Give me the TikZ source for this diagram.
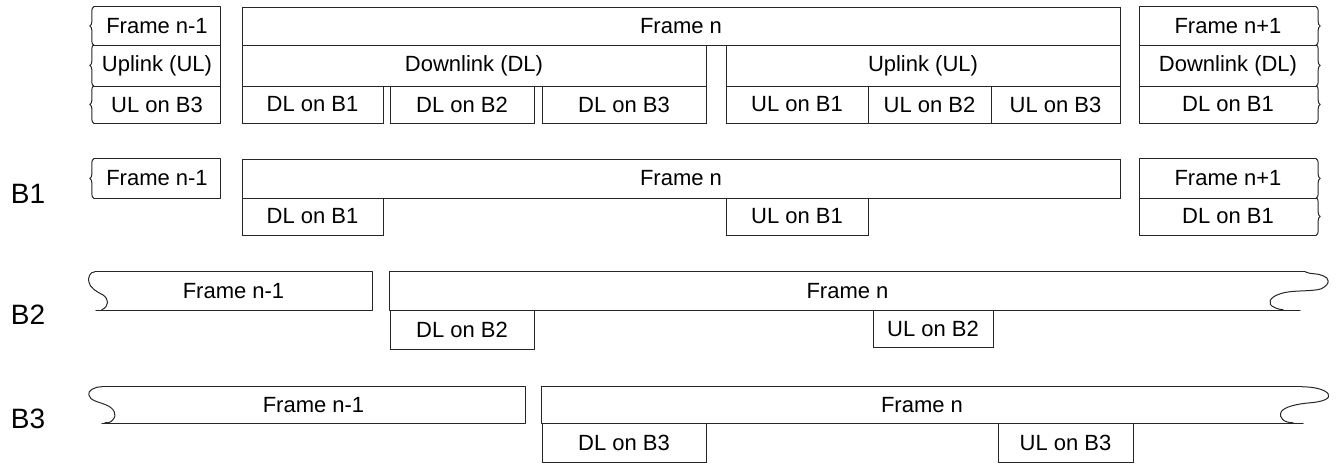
\documentclass[tikz,border=0pt]{standalone}
\usepackage{fontspec}
\setmainfont{Liberation Sans}
\usetikzlibrary{fit,decorations.pathreplacing}
\definecolor{ln}{gray}{0.15}
\begin{document}
\begin{tikzpicture}[x=1pt,y=-1pt,
  every label/.style={inner sep=0pt, font=\fontsize{22}{26}\selectfont, text=black},
  box/.style={draw=ln, line width=1pt, inner sep=0pt},
  lbl/.style={inner sep=0pt},
  edge/.style={draw=ln, line width=1pt, line join=round, line cap=round},
  brL/.style={edge, decorate, decoration={brace, amplitude=4pt}},
  bname/.style={font=\fontsize{28}{32}\selectfont, inner sep=0pt}]
\useasboundingbox (0,0) rectangle (1336,464);

% ---------- top row ----------
\node[lbl, fit={(94,7)(220,45)}, label=center:{Frame n-1}] (ta1) {};
\node[lbl, fit={(94,45)(220,86)}, label=center:{Uplink (UL)}] (ta2) {};
\node[lbl, fit={(94,86)(220,123)}, label=center:{UL on B3}] (ta3) {};
\draw[edge] (ta1.north west) -- (ta1.north east) -- (ta3.south east) -- (ta3.south west);
\draw[edge] (ta1.south west) -- (ta1.south east) (ta2.south west) -- (ta2.south east);
\foreach \n in {ta1,ta2,ta3} \draw[brL] (\n.south west) -- (\n.north west);

\node[box, fit={(242,7)(1120,45)}, label=center:{Frame n}] (tn) {};
\node[box, fit={(242,45)(706,86)}, label=center:{Downlink (DL)}] (tdl) {};
\node[box, fit={(726,45)(1120,86)}, label=center:{Uplink (UL)}] (tul) {};
\node[box, fit={(242,86)(383,123)}, label=center:{DL on B1}] (td1) {};
\node[box, fit={(390,86)(534,123)}, label=center:{DL on B2}] (td2) {};
\node[box, fit={(542,86)(706,123)}, label=center:{DL on B3}] (td3) {};
\node[box, fit={(726,86)(868,123)}, label=center:{UL on B1}] (tu1) {};
\node[box, fit={(868,86)(991,123)}, label=center:{UL on B2}] (tu2) {};
\node[box, fit={(991,86)(1120,123)}, label=center:{UL on B3}] (tu3) {};

\node[lbl, fit={(1140,7)(1316,45)}, label=center:{Frame n+1}] (tc1) {};
\node[lbl, fit={(1140,45)(1316,86)}, label=center:{Downlink (DL)}] (tc2) {};
\node[lbl, fit={(1140,86)(1316,123)}, label=center:{DL on B1}] (tc3) {};
\draw[edge] (tc1.north east) -- (tc1.north west) -- (tc3.south west) -- (tc3.south east);
\draw[edge] (tc1.south west) -- (tc1.south east) (tc2.south west) -- (tc2.south east);
\foreach \n in {tc1,tc2,tc3} \draw[brL] (\n.north east) -- (\n.south east);

% ---------- B1 ----------
\node[bname] (b1) at (28,194) {B1};
\node[lbl, fit={(94,159)(220,198)}, label=center:{Frame n-1}] (ba1) {};
\draw[edge] (ba1.north west) -- (ba1.north east) -- (ba1.south east) -- (ba1.south west);
\draw[brL] (ba1.south west) -- (ba1.north west);
\node[box, fit={(242,159)(1120,198)}, label=center:{Frame n}] (bn) {};
\node[box, fit={(242,198)(383,235)}, label=center:{DL on B1}] (bd1) {};
\node[box, fit={(726,198)(868,235)}, label=center:{UL on B1}] (bu1) {};
\node[lbl, fit={(1140,159)(1316,198)}, label=center:{Frame n+1}] (bc1) {};
\node[lbl, fit={(1140,198)(1316,235)}, label=center:{DL on B1}] (bc2) {};
\draw[edge] (bc1.north east) -- (bc1.north west) -- (bc2.south west) -- (bc2.south east);
\draw[edge] (bc1.south west) -- (bc1.south east);
\foreach \n in {bc1,bc2} \draw[brL] (\n.north east) -- (\n.south east);

% ---------- B2 ----------
\node[bname] (b2) at (28,315) {B2};
\node[lbl, fit={(95,272)(372,310)}, label=center:{Frame n-1}] (ca1) {};
\draw[edge] (ca1.north west) -- (ca1.north east) -- (ca1.south east) -- ([xshift=1pt]ca1.south west);
\draw[edge, shift={(ca1.north west)}] (0,0) .. controls (-5,0) and (-7,6) .. (-6,10)
   .. controls (-5,16) and (2,20) .. (8,23) .. controls (14,27) and (15,34) .. (7,38);
\node[lbl, fit={(390,272)(1305,310)}, label=center:{Frame n}] (cn) {};
\draw[edge] (cn.north east) -- (cn.north west) -- (cn.south west) -- ([xshift=-5pt]cn.south east);
\draw[edge, shift={(cn.north east)}] (0,0) .. controls (6,3) and (12,1) .. (18,4)
   .. controls (24,6) and (26,12) .. (16,17) .. controls (8,20) and (-15,18) .. (-25,22)
   .. controls (-35,25) and (-40,32) .. (-30,36) .. controls (-27,37) and (-25,38) .. (-22,38);
\node[box, fit={(390,310)(534,349)}, label=center:{DL on B2}] (cd2) {};
\node[box, fit={(873,310)(993,347)}, label=center:{UL on B2}] (cu2) {};

% ---------- B3 ----------
\node[bname] (b3) at (28,419) {B3};
\node[lbl, fit={(102,387)(525,423)}, label=center:{Frame n-1}] (da1) {};
\draw[edge] (da1.north west) -- (da1.north east) -- (da1.south east) -- (da1.south west);
\draw[edge, shift={(da1.north west)}] (0,0) .. controls (-8,0) and (-14,4) .. (-13,8)
   .. controls (-12,14) and (-3,15) .. (4,18) .. controls (12,21) and (16,28) .. (11,33)
   .. controls (9,36) and (6,36) .. (3,36);
\node[lbl, fit={(542,387)(1302,423)}, label=center:{Frame n}] (dn) {};
\draw[edge] (dn.north east) -- (dn.north west) -- (dn.south west) -- ([xshift=1pt]dn.south east);
\draw[edge, shift={(dn.north east)}] (0,0) .. controls (10,0) and (22,2) .. (26,7)
   .. controls (29,12) and (20,15) .. (8,16) .. controls (-5,17) and (-18,20) .. (-21,25)
   .. controls (-24,31) and (-18,36) .. (-9,36);
\node[box, fit={(542,423)(706,462)}, label=center:{DL on B3}] (dd3) {};
\node[box, fit={(998,423)(1133,462)}, label=center:{UL on B3}] (du3) {};
\end{tikzpicture}
\end{document}
